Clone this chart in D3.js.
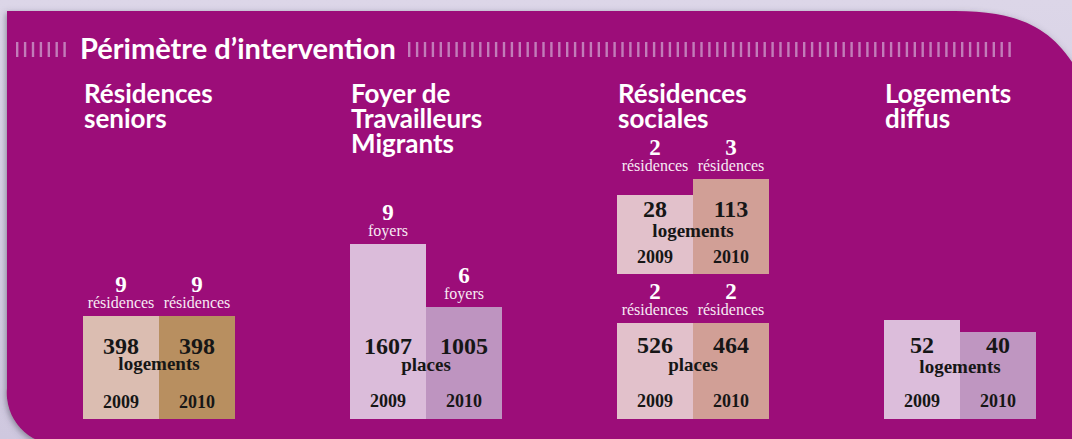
<!DOCTYPE html>
<html>
<head>
<meta charset="utf-8">
<script src="https://cdn.jsdelivr.net/npm/d3@7"></script>
<style>
  body { margin: 0; background: #d6d0e3; }
  svg { display: block; }
</style>
</head>
<body>
<div id="chart"></div>
<script>
// Données
const years = ["2009", "2010"];
const columns = ["seniors", "ftm", "sociales", "diffus"];
const headings = [["Résidences", "seniors"], ["Foyer de", "Travailleurs", "Migrants"], ["Résidences", "sociales"], ["Logements", "diffus"]];
const groups = ["seniors", "ftm", "sociales-logements", "sociales-places", "diffus"];
const groupColumn = ["seniors", "ftm", "sociales", "sociales", "diffus"];
const counts2009 = [9, 9, 2, 2, null];
const counts2010 = [9, 6, 3, 2, null];
const countUnits = ["résidences", "foyers", "résidences", "résidences", null];
const values2009 = [398, 1607, 28, 526, 52];
const values2010 = [398, 1005, 113, 464, 40];
const valueUnits = ["logements", "places", "logements", "places", "logements"];

// Mise en page par groupe
const layout = {
  "seniors":            { base: 419, hRange: [103, 103], offs: [65, 49, 11], colors: ["#dbbdb1", "#b88f60"] },
  "ftm":                { base: 419, hRange: [112, 175], offs: [65, 48, 12], colors: ["#dbbcda", "#be94c0"] },
  "sociales-logements": { base: 274, hRange: [79, 95],   offs: [57, 37, 11], colors: ["#e2c1cb", "#d19f96"], alignTop: true },
  "sociales-places":    { base: 419, hRange: [96, 96],   offs: [66, 48, 12], colors: ["#e2c1cb", "#d19f96"] },
  "diffus":             { base: 419, hRange: [87, 99],   offs: [66, 46, 12], colors: ["#dcbddb", "#bf96c1"] }
};

const width = 1072;
const height = 439;
const magenta = "#9c0b79";
const sans = "Lato, 'Open Sans', sans-serif";
const serif = "'Liberation Serif', 'DejaVu Serif', serif";

const svg = d3.select("#chart")
  .append("svg")
  .attr("width", width)
  .attr("height", height);

// fond + ombre
const defs = svg.append("defs");
const bg = defs.append("linearGradient").attr("id", "bg").attr("x1", 0).attr("y1", 0).attr("x2", 0).attr("y2", 1);
bg.append("stop").attr("offset", 0).attr("stop-color", "#dcd6e8");
bg.append("stop").attr("offset", 1).attr("stop-color", "#cfc8df");
svg.append("rect").attr("width", width).attr("height", height).attr("fill", "url(#bg)");

const shadow = defs.append("filter").attr("id", "shadow")
  .attr("x", -0.05).attr("y", -0.1).attr("width", 1.1).attr("height", 1.2);
shadow.append("feDropShadow")
  .attr("dx", -1).attr("dy", 2).attr("stdDeviation", 3)
  .attr("flood-color", "#4a4458").attr("flood-opacity", 0.55);

// panneau magenta
svg.append("path")
  .attr("d", "M7,11 H955 C1012,11 1047,24 1072,62 V445 H59 A52,52 0 0 1 7,388 Z")
  .attr("fill", magenta)
  .attr("filter", "url(#shadow)");

// Titre et hachures
const stripes = d3.range(16, 70, 7.9).concat(d3.range(408, 1012, 7.9));
svg.append("g")
  .selectAll("rect")
  .data(stripes)
  .join("rect")
  .attr("x", d => d)
  .attr("y", 42)
  .attr("width", 2.4)
  .attr("height", 15)
  .attr("fill", "#c27cb9");

svg.append("text")
  .attr("x", 80)
  .attr("y", 59)
  .style("font-family", sans)
  .style("font-weight", 700)
  .style("font-size", "29px")
  .style("fill", "#fff")
  .text("Périmètre d’intervention");

// Escales
const xCol = d3.scaleBand()
  .domain(columns)
  .range([83, 83 + 267 * columns.length]);

const xYear = d3.scaleBand()
  .domain(years)
  .range([0, 152]);

// Titres de colonnes
svg.selectAll("text.heading")
  .data(columns)
  .join("text")
  .attr("class", "heading")
  .attr("x", d => xCol(d) + 1)
  .attr("y", 103)
  .style("font-family", sans)
  .style("font-weight", 700)
  .style("font-size", "26px")
  .style("fill", "#fff")
  .selectAll("tspan")
  .data((d, i) => headings[i])
  .join("tspan")
  .attr("x", function () { return d3.select(this.parentNode).attr("x"); })
  .attr("dy", (d, i) => i === 0 ? 0 : 25)
  .text(d => d);

// Barres
groups.forEach((g, gi) => {
  const L = layout[g];
  const x0 = xCol(groupColumn[gi]);
  const vals = [values2009[gi], values2010[gi]];
  const counts = [counts2009[gi], counts2010[gi]];
  const h = d3.scaleLinear().domain(d3.extent(vals)).range(L.hRange);

  const rows = years.map((y, i) => ({ year: y, value: vals[i], count: counts[i], color: L.colors[i] }));
  const topMax = L.base - d3.max(rows, d => h(d.value));
  const grp = svg.append("g").attr("transform", `translate(${x0},0)`);

  grp.selectAll("rect")
    .data(rows)
    .join("rect")
    .attr("x", d => xYear(d.year))
    .attr("y", d => L.base - h(d.value))
    .attr("width", xYear.bandwidth())
    .attr("height", d => h(d.value))
    .attr("fill", d => d.color);

  const cx = d => xYear(d.year) + xYear.bandwidth() / 2;

  // valeurs
  grp.selectAll("text.value")
    .data(rows)
    .join("text")
    .attr("class", "value")
    .attr("x", cx)
    .attr("y", L.base - L.offs[0])
    .attr("text-anchor", "middle")
    .style("font-family", serif)
    .style("font-weight", 700)
    .style("font-size", "24px")
    .style("fill", "#161616")
    .text(d => d.value);

  grp.append("text")
    .attr("x", xYear.range()[1] / 2)
    .attr("y", L.base - L.offs[1])
    .attr("text-anchor", "middle")
    .style("font-family", serif)
    .style("font-weight", 700)
    .style("font-size", "19px")
    .style("fill", "#161616")
    .text(valueUnits[gi]);

  grp.selectAll("text.year")
    .data(rows)
    .join("text")
    .attr("class", "year")
    .attr("x", cx)
    .attr("y", L.base - L.offs[2])
    .attr("text-anchor", "middle")
    .style("font-family", serif)
    .style("font-weight", 700)
    .style("font-size", "18px")
    .style("fill", "#161616")
    .text(d => d.year);

  // nombre d'établissements au-dessus
  const withCount = rows.filter(d => d.count != null);
  const topOf = d => L.alignTop ? topMax : L.base - h(d.value);

  grp.selectAll("text.count")
    .data(withCount)
    .join("text")
    .attr("class", "count")
    .attr("x", cx)
    .attr("y", d => topOf(d) - 24)
    .attr("text-anchor", "middle")
    .style("font-family", serif)
    .style("font-weight", 700)
    .style("font-size", "23px")
    .style("fill", "#fff")
    .text(d => d.count);

  grp.selectAll("text.cunit")
    .data(withCount)
    .join("text")
    .attr("class", "cunit")
    .attr("x", cx)
    .attr("y", d => topOf(d) - 8)
    .attr("text-anchor", "middle")
    .style("font-family", serif)
    .style("font-size", "16px")
    .style("fill", "#f7eaf4")
    .text(countUnits[gi]);
});
</script>
</body>
</html>
